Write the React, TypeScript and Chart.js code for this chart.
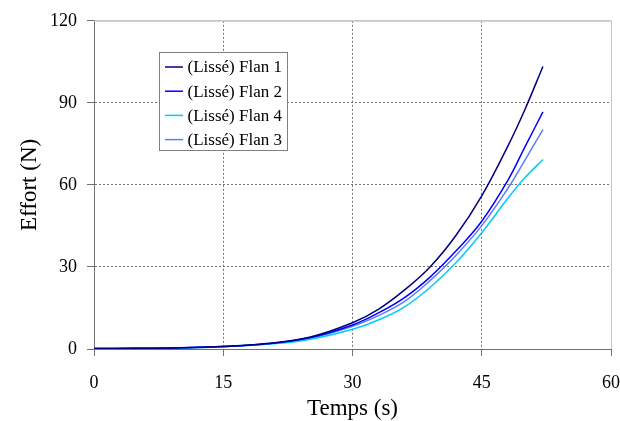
import React, { useEffect, useRef } from 'react';
import { Chart, registerables } from 'chart.js';

Chart.register(...registerables);

// ---- data ----
const times = [0, 5, 10, 15, 20, 25, 30, 33, 36, 39, 42, 45, 48, 50, 52.1];
const flan1 = [0.2, 0.25, 0.45, 0.95, 2.0, 4.3, 9.6, 14.5, 21.5, 30, 41.5, 56, 74, 87.5, 103.3];
const flan2 = [0.2, 0.25, 0.45, 0.9, 1.9, 4.1, 8.8, 13.2, 18.7, 26.3, 35.8, 46.7, 61.5, 73.8, 86.7];
const flan4 = [0.2, 0.25, 0.4, 0.85, 1.7, 3.5, 7.2, 10.6, 15.3, 22.5, 31.5, 42.5, 55, 62.6, 69.3];
const flan3 = [0.2, 0.25, 0.45, 0.9, 1.85, 3.9, 8.3, 12.2, 17.3, 25, 34.2, 45.1, 58.6, 69, 80.2];
const seriesLabels = ['(Lissé) Flan 1', '(Lissé) Flan 2', '(Lissé) Flan 4', '(Lissé) Flan 3'];
const seriesValues = [flan1, flan2, flan4, flan3];
const seriesColors = ['#000080', '#0000ff', '#00ccff', '#5a7dff'];
const xTicks = [0, 15, 30, 45, 60];
const yTicks = [0, 30, 60, 90, 120];
const xTitle = 'Temps (s)';
const yTitle = 'Effort (N)';

const FONT = "'Liberation Serif', 'Times New Roman', serif";

const legendPlugin = {
  id: 'boxLegend',
  afterDraw(chart: any) {
    const ctx = chart.ctx;
    const bx = 159.5, by = 52.5, bw = 128, bh = 98;
    ctx.save();
    ctx.fillStyle = '#ffffff';
    ctx.fillRect(bx, by, bw, bh);
    ctx.strokeStyle = '#808080';
    ctx.lineWidth = 1;
    ctx.strokeRect(bx, by, bw, bh);
    ctx.font = `17px ${FONT}`;
    ctx.textBaseline = 'middle';
    ctx.textAlign = 'left';
    chart.data.datasets.forEach((ds: any, i: number) => {
      const y = 67 + i * 24.2;
      ctx.strokeStyle = ds.borderColor;
      ctx.lineWidth = 1.5;
      ctx.beginPath();
      ctx.moveTo(165, y);
      ctx.lineTo(183, y);
      ctx.stroke();
      ctx.fillStyle = '#000000';
      ctx.fillText(ds.label, 187.5, y + 1);
    });
    ctx.restore();
  },
};

const frameBorder = {
  id: 'frameBorder',
  afterDatasetsDraw(chart: any) {
    const { ctx, chartArea } = chart;
    ctx.save();
    ctx.strokeStyle = '#c8c8c8';
    ctx.lineWidth = 1;
    ctx.beginPath();
    ctx.moveTo(chartArea.left, chartArea.top + 0.5);
    ctx.lineTo(chartArea.right + 0.5, chartArea.top + 0.5);
    ctx.lineTo(chartArea.right + 0.5, chartArea.bottom);
    ctx.stroke();
    ctx.restore();
  },
};

export default function App() {
  const ref = useRef<HTMLCanvasElement>(null);
  useEffect(() => {
    if (!ref.current) return;
    const chart = new Chart(ref.current, {
      type: 'line',
      data: {
        datasets: seriesLabels.map((label, i) => ({
          label,
          data: times.map((t, j) => ({ x: t, y: seriesValues[i][j] })),
          borderColor: seriesColors[i],
          backgroundColor: seriesColors[i],
          borderWidth: 1.5,
          pointRadius: 0,
          fill: false,
          tension: 0.4,
        })),
      },
      options: {
        responsive: false,
        animation: false,
        layout: { padding: { left: 0, right: 9, top: 19, bottom: 0 } },
        plugins: {
          legend: { display: false },
          tooltip: { enabled: false },
        },
        scales: {
          x: {
            type: 'linear',
            min: 0,
            max: 60,
            afterBuildTicks: (s: any) => {
              s.ticks = xTicks.map((v) => ({ value: v }));
            },
            afterFit: (s: any) => {
              s.height = 72;
              s.paddingLeft = 0;
              s.paddingRight = 0;
            },
            ticks: {
              color: '#000000',
              font: { family: FONT, size: 18 },
              padding: 16,
              maxRotation: 0,
            },
            grid: {
              color: (c: any) => (c.tick && c.tick.value === 60 ? '#c8c8c8' : '#707070'),
              tickColor: '#707070',
              tickLength: 7,
              tickBorderDash: [1, 0],
              lineWidth: 1,
            },
            border: {
              color: '#707070',
              width: 1,
              dash: (c: any) => (c.tick && c.tick.value === 60 ? [] : [2, 2]),
            },
            title: {
              display: true,
              text: xTitle,
              color: '#000000',
              font: { family: FONT, size: 23, lineHeight: 1.0 },
              padding: { top: 0, bottom: 1 },
            },
          },
          y: {
            type: 'linear',
            min: 0,
            max: 120,
            afterBuildTicks: (s: any) => {
              s.ticks = yTicks.map((v) => ({ value: v }));
            },
            afterFit: (s: any) => {
              s.width = 94;
            },
            ticks: {
              color: '#000000',
              font: { family: FONT, size: 18 },
              padding: 10,
            },
            grid: {
              color: (c: any) => (c.tick && c.tick.value === 120 ? '#c8c8c8' : '#707070'),
              tickColor: '#707070',
              tickLength: 7,
              tickBorderDash: [1, 0],
              lineWidth: 1,
            },
            border: {
              color: '#707070',
              width: 1,
              dash: (c: any) => (c.tick && c.tick.value === 120 ? [] : [2, 2]),
            },
            title: {
              display: true,
              text: yTitle,
              color: '#000000',
              font: { family: FONT, size: 23 },
              padding: { top: 16, bottom: 0 },
            },
          },
        },
      },
      plugins: [frameBorder, legendPlugin],
    } as any);
    return () => chart.destroy();
  }, []);
  return (
    <div style={{ position: 'absolute', left: 0, top: 0, width: 620, height: 421, background: '#ffffff' }}>
      <canvas ref={ref} width={620} height={421} />
    </div>
  );
}
